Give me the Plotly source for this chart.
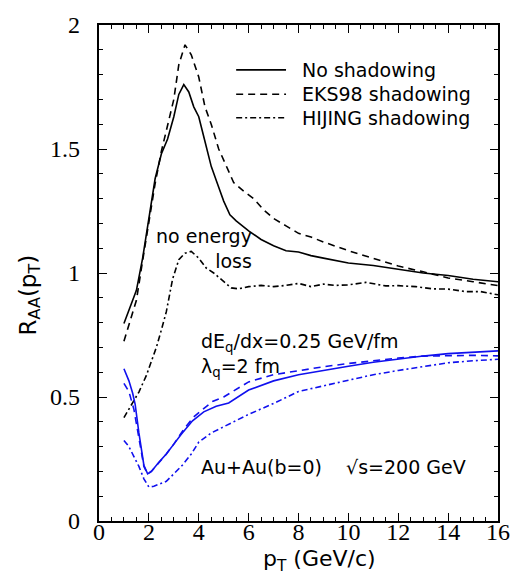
import plotly.graph_objects as go

# ---------------- data ----------------
ns_x = [1.0,1.25,1.5,1.75,2.0,2.25,2.5,2.75,3.0,3.2,3.4,3.6,3.8,4.0,4.25,4.5,4.75,5.0,5.25,5.5,6.0,6.5,7.0,7.5,8.0,8.5,9.0,10,11,12,13,14,15,16]
ns_y = [0.796,0.86,0.93,1.06,1.22,1.38,1.48,1.54,1.63,1.72,1.76,1.73,1.67,1.63,1.53,1.43,1.36,1.29,1.235,1.21,1.17,1.135,1.11,1.09,1.085,1.07,1.06,1.04,1.03,1.015,1.0,0.99,0.975,0.965]

eks_x = [1.0,1.25,1.5,1.75,2.0,2.25,2.5,2.75,3.0,3.2,3.45,3.7,4.0,4.25,4.5,4.8,5.1,5.4,5.8,6.2,6.6,7.0,7.5,8.0,8.5,9.0,10,11,12,13,14,15,16]
eks_y = [0.725,0.81,0.89,1.05,1.2,1.36,1.49,1.6,1.70,1.84,1.92,1.88,1.79,1.67,1.60,1.50,1.43,1.365,1.33,1.30,1.255,1.22,1.19,1.16,1.145,1.125,1.09,1.06,1.028,1.005,0.98,0.965,0.949]

hij_x = [1.0,1.35,1.6,1.9,2.1,2.3,2.5,2.7,2.95,3.2,3.45,3.7,4.0,4.3,4.6,5.0,5.3,5.6,6.0,6.5,7.0,7.5,8.0,8.5,9.0,9.5,10,10.7,11.5,12,12.7,13.4,14,14.7,15.3,16]
hij_y = [0.417,0.476,0.52,0.587,0.64,0.70,0.77,0.844,0.975,1.054,1.08,1.087,1.06,1.02,1.00,0.965,0.94,0.936,0.945,0.95,0.945,0.95,0.958,0.945,0.955,0.95,0.952,0.962,0.948,0.949,0.945,0.936,0.935,0.925,0.925,0.912]

ns_el_x = [1.0,1.2,1.35,1.45,1.6,1.8,1.95,2.1,2.4,2.7,3.0,3.3,3.75,4.2,4.7,5.2,6.0,7.0,8.0,9.0,10,11,12,13,14,15,16]
ns_el_y = [0.614,0.565,0.515,0.47,0.355,0.225,0.19,0.20,0.237,0.27,0.31,0.35,0.404,0.44,0.463,0.476,0.528,0.565,0.59,0.608,0.624,0.64,0.653,0.665,0.675,0.68,0.686]

eks_el_x = [1.0,1.2,1.4,1.6,1.8,1.95,2.1,2.4,2.7,3.0,3.4,3.8,4.2,4.55,5.0,6.0,7.0,8.0,9.0,10,11,12,13,14,15,16]
eks_el_y = [0.555,0.522,0.45,0.33,0.22,0.19,0.20,0.235,0.27,0.31,0.37,0.42,0.455,0.482,0.50,0.561,0.59,0.607,0.622,0.635,0.647,0.657,0.665,0.668,0.668,0.666]

hij_el_x = [1.0,1.2,1.4,1.6,1.8,2.0,2.2,2.5,2.7,3.0,3.35,3.7,4.0,4.5,5.0,5.35,6.0,7.0,8.0,9.0,10,11,12,13,14,15,16]
hij_el_y = [0.325,0.30,0.26,0.22,0.17,0.137,0.14,0.152,0.16,0.19,0.226,0.27,0.318,0.355,0.38,0.397,0.43,0.474,0.522,0.545,0.568,0.59,0.607,0.622,0.638,0.646,0.652]

legend_labels = ["No shadowing", "EKS98 shadowing", "HIJING shadowing"]

# ---------------- styles ----------------
SOLID = "solid"
DASH = "7px,5px"
DASHDOT = "6px,3px,2px,3px"
BLACK = "black"
BLUE = "#1010ee"
TXT_FONT = "DejaVu Sans"
TICK_FONT = "Liberation Serif"
FS = 19

fig = go.Figure()
series = [
    (ns_x, ns_y, BLACK, SOLID),
    (eks_x, eks_y, BLACK, DASH),
    (hij_x, hij_y, BLACK, DASHDOT),
    (ns_el_x, ns_el_y, BLUE, SOLID),
    (eks_el_x, eks_el_y, BLUE, DASH),
    (hij_el_x, hij_el_y, BLUE, DASHDOT),
]
for xs, ys, col, dash in series:
    fig.add_trace(go.Scatter(x=xs, y=ys, mode="lines", showlegend=False,
                             line=dict(color=col, width=1.6, dash=dash)))
# empty trace so the label-only axes are drawn
fig.add_trace(go.Scatter(x=[], y=[], xaxis="x2", yaxis="y2", showlegend=False, hoverinfo="skip"))

# legend drawn as decoration
leg_y = [1.819, 1.721, 1.626]
dashes = [SOLID, DASH, DASHDOT]
shapes = []
annotations = []
for lbl, ly, d in zip(legend_labels, leg_y, dashes):
    shapes.append(dict(type="line", xref="x", yref="y", x0=5.5, x1=7.5, y0=ly, y1=ly,
                       line=dict(color=BLACK, width=1.6, dash=d)))
    annotations.append(dict(xref="x", yref="y", x=8.05, y=ly, text=lbl, showarrow=False,
                            xanchor="left", yanchor="middle", font=dict(family=TXT_FONT, size=FS, color=BLACK)))

annotations += [
    dict(xref="x", yref="y", x=6.2, y=1.10, text="no energy<br>loss", align="right", showarrow=False,
         xanchor="right", yanchor="middle", font=dict(family=TXT_FONT, size=FS, color=BLACK)),
    dict(xref="x", yref="y", x=4.0, y=0.719, text="dE<sub>q</sub>/dx=0.25 GeV/fm", showarrow=False,
         xanchor="left", yanchor="middle", font=dict(family=TXT_FONT, size=FS, color=BLACK)),
    dict(xref="x", yref="y", x=4.0, y=0.620, text="λ<sub>q</sub>=2 fm", showarrow=False,
         xanchor="left", yanchor="middle", font=dict(family=TXT_FONT, size=FS, color=BLACK)),
    dict(xref="x", yref="y", x=4.0, y=0.2195, text="Au+Au(b=0)\u00a0\u00a0\u00a0\u00a0√s=200 GeV", showarrow=False,
         xanchor="left", yanchor="middle", font=dict(family=TXT_FONT, size=FS, color=BLACK)),
    dict(xref="paper", yref="paper", x=-0.1727, y=0.4547, text="R<sub>AA</sub>(p<sub>T</sub>)", textangle=-90,
         showarrow=False, xanchor="center", yanchor="middle", font=dict(family=TXT_FONT, size=23, color=BLACK)),
    dict(xref="paper", yref="paper", x=0.552, y=-0.113, text="p<sub>T</sub> (GeV/c)",
         showarrow=False, xanchor="center", yanchor="bottom", font=dict(family=TXT_FONT, size=22, color=BLACK)),
]

# frame + ticks (no labels)
tick_axis = dict(showline=True, linewidth=2, linecolor=BLACK, mirror="allticks", ticks="inside",
                 tickcolor=BLACK, tickwidth=1.3, ticklen=8, showgrid=False, zeroline=False,
                 showticklabels=False)
fig.update_layout(
    xaxis=dict(range=[0, 16], tickmode="linear", tick0=0, dtick=2,
               minor=dict(dtick=0.5, tick0=0, ticks="inside", ticklen=4, tickcolor=BLACK, tickwidth=1.2),
               **tick_axis),
    yaxis=dict(range=[0, 2], tickmode="linear", tick0=0, dtick=0.5,
               minor=dict(dtick=0.1, tick0=0, ticks="inside", ticklen=4, tickcolor=BLACK, tickwidth=1.2),
               **tick_axis),
    # label-only axes
    xaxis2=dict(range=[0, 16], overlaying="x", anchor="free", position=0.012, side="bottom",
                tickmode="linear", tick0=0, dtick=2, ticks="", showline=False, showgrid=False, zeroline=False,
                tickfont=dict(family=TICK_FONT, size=24, color=BLACK)),
    yaxis2=dict(range=[0, 2], overlaying="y", anchor="x2", side="left",
                tickmode="linear", tick0=0, dtick=0.5, ticks="", showline=False, showgrid=False, zeroline=False,
                ticklabelstandoff=18, tickfont=dict(family=TICK_FONT, size=24, color=BLACK)),
    width=522, height=577, margin=dict(l=99, r=23, t=13, b=56),
    plot_bgcolor="white", paper_bgcolor="white",
    shapes=shapes, annotations=annotations)
fig.write_html("out.html")
